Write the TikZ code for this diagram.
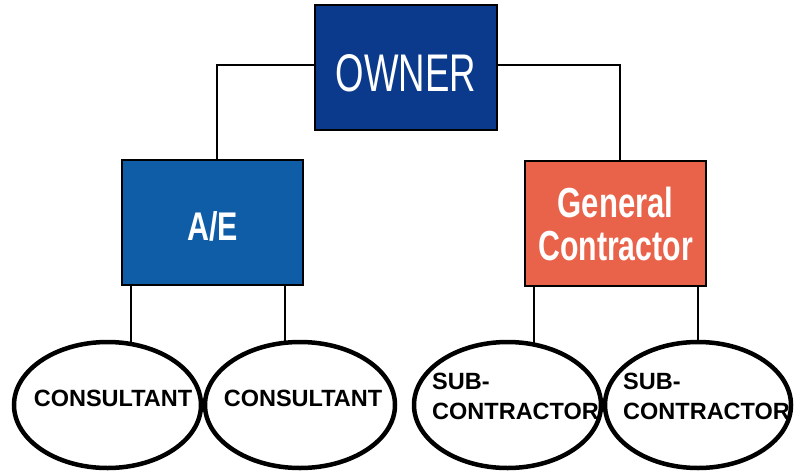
\documentclass[tikz,border=0pt]{standalone}
\usepackage{fontspec}
\setmainfont{Liberation Sans}
\usetikzlibrary{shapes.geometric,backgrounds}
\definecolor{ownerblue}{RGB}{11,58,140}
\definecolor{aeblue}{RGB}{15,93,166}
\definecolor{gcorange}{RGB}{233,99,74}
\begin{document}
\begin{tikzpicture}[x=1pt,y=-1pt,
  box/.style={draw=black, line width=1.5pt, minimum width=181pt, minimum height=125pt, inner sep=0pt, text=white},
  oval/.style={draw=black, line width=4.5pt, fill=white, ellipse, minimum width=187pt, minimum height=126pt, inner sep=0pt},
  lbl/.style={font=\bfseries\fontsize{23.5}{30}\selectfont, inner sep=0pt},
  wire/.style={draw=black, line width=1.5pt}]
\useasboundingbox (0,0) rectangle (794,471);
% top boxes
\node[box, fill=ownerblue, minimum width=182pt, text height=48pt, text depth=0pt,
      font=\fontsize{53}{53}\selectfont] (owner) at (406,67.5) {\scalebox{0.69}[1]{OWNER}};
\node[box, fill=aeblue, text height=36.6pt, text depth=0pt,
      font=\bfseries\fontsize{40}{40}\selectfont] (ae) at (212.5,222.5) {\scalebox{0.76}[1]{A/E}};
\node[box, fill=gcorange, align=center,
      font=\bfseries\fontsize{42}{43}\selectfont] (gc) at (615.5,223.5) {\scalebox{0.74}[1]{General}\\\scalebox{0.72}[1]{Contractor}};
% ellipses
\node[oval] (c1) at (107.5,405) {};
\node[oval, minimum width=190pt] (c2) at (300,405) {};
\node[oval] (s1) at (507.5,405) {};
\node[oval, minimum width=186pt] (s2) at (698,405) {};
% labels
\node[lbl, anchor=base] (t1) at (113,406) {CONSULTANT};
\node[lbl, anchor=base] (t2) at (303,406) {CONSULTANT};
\node[lbl, anchor=north west, align=left] (t3) at (432,373) {SUB-\\CONTRACTOR};
\node[lbl, anchor=north west, align=left] (t4) at (623,373) {SUB-\\CONTRACTOR};
% connector end points
\coordinate (d1) at (131,380);
\coordinate (d2) at (285,380);
\coordinate (d3) at (534,380);
\coordinate (d4) at (698,380);
\begin{scope}[on background layer]
  \fill[white] (0,0) rectangle (794,471);
  \draw[wire] ([yshift=2.5pt]owner.west) -| ([xshift=4.5pt]ae.north);
  \draw[wire] ([yshift=2.5pt]owner.east) -| ([xshift=4.5pt]gc.north);
  \draw[wire] (ae.south -| d1) -- (d1);
  \draw[wire] (ae.south -| d2) -- (d2);
  \draw[wire] (gc.south -| d3) -- (d3);
  \draw[wire] (gc.south -| d4) -- (d4);
\end{scope}
\end{tikzpicture}
\end{document}
